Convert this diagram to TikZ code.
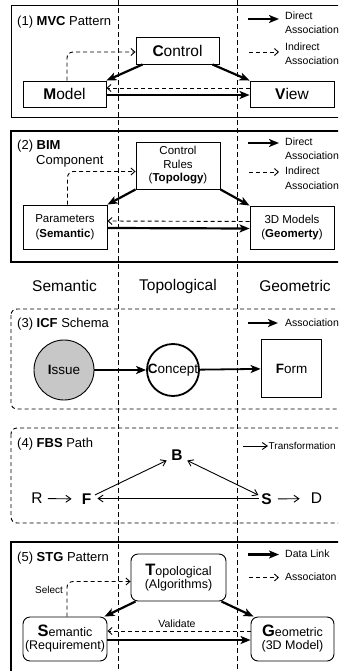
\documentclass[tikz,border=0pt]{standalone}
\usepackage{fontspec}
\setmainfont{Liberation Sans}
\usetikzlibrary{arrows.meta}
\newcommand{\myfs}[1]{\fontsize{#1}{#1}\selectfont}
\begin{document}
\begin{tikzpicture}[x=1pt,y=-1pt,
  frame/.style={draw, line width=0.9pt},
  bigframe/.style={draw, line width=2pt},
  dframe/.style={draw, line width=0.9pt, dash pattern=on 4pt off 3pt, rounded corners=6pt},
  box/.style={draw, line width=0.9pt, fill=white, inner sep=0pt},
  rbox/.style={draw, line width=0.9pt, fill=white, inner sep=0pt, rounded corners=7pt},
  thk/.style={line width=2.2pt, -{Stealth[length=10pt,width=8pt,inset=2.5pt]}},
  dsh/.style={line width=0.9pt, dash pattern=on 4pt off 3pt, -{Straight Barb[length=4pt,width=7pt]}},
  thn/.style={line width=0.9pt, -{Straight Barb[length=5pt,width=7pt]}},
  lg/.style={font=\myfs{10.5}, anchor=west, inner sep=0pt},
  ttl/.style={font=\myfs{13}, anchor=west, inner sep=0pt},
  col/.style={font=\myfs{15.5}, inner sep=0pt},
  guide/.style={line width=0.8pt, dash pattern=on 5pt off 3pt}
]
\path[use as bounding box] (0,0) rectangle (338,671);
\clip (0,0) rectangle (338,671);
\coordinate (g1t) at (118,0); \coordinate (g1b) at (118,671);
\coordinate (g2t) at (237,0); \coordinate (g2b) at (237,671);
\draw[guide] (g1t) -- (g1b);
\draw[guide] (g2t) -- (g2b);

% ---------- (1) MVC ----------
\draw[frame] (11,5) rectangle (350,117);
\node[ttl] (t1) at (17,22) {(1) \textbf{MVC} Pattern};
\node[box, minimum width=83pt, minimum height=27pt, font=\myfs{15.5}] (ctl) at (177.5,50.5) {\textbf{C}ontrol};
\node[box, minimum width=83pt, minimum height=26pt, font=\myfs{15.5}] (model) at (64.5,94) {\textbf{M}odel};
\node[box, minimum width=84pt, minimum height=26pt, font=\myfs{15.5}] (view) at (292,94) {\textbf{V}iew};
\draw[thk] ([xshift=7pt]ctl.south west) -- (model.north east);
\draw[thk] ([xshift=-7pt]ctl.south east) -- (view.north west);
\draw[thk] ([yshift=-1pt]model.east) -- ([yshift=-1pt]view.west);
\draw[dsh] ([yshift=6pt]view.west) -- ([yshift=6pt]model.east);
\draw[dsh, rounded corners=6pt] (model.north) ++(2.5,0) |- ([yshift=-1.5pt]ctl.west);
\coordinate (l1a) at (248,19); \coordinate (l1b) at (279,19);
\draw[thk] (l1a) -- (l1b);
\node[lg] (l1t1) at (285,16) {Direct};
\node[lg] (l1t2) at (285,29.5) {Association};
\coordinate (l1c) at (249,52); \coordinate (l1d) at (279,52);
\draw[dsh] (l1c) -- (l1d);
\node[lg] (l1t3) at (285,47) {Indirect};
\node[lg] (l1t4) at (285,60.5) {Association};

% ---------- (2) BIM ----------
\draw[bigframe] (11,131) rectangle (350,262);
\node[ttl] (t2a) at (17,146) {(2) \textbf{BIM}};
\node[ttl] (t2b) at (36,161) {Component};
\node[box, minimum width=84pt, minimum height=47pt, font=\myfs{11.5}, align=center] (cr) at (178,165.5) {Control\\[2pt]Rules\\[2pt](\textbf{Topology})};
\node[box, minimum width=84pt, minimum height=44pt, font=\myfs{11.5}, align=center] (par) at (65,227) {Parameters\\[3pt](\textbf{Semantic})};
\node[box, minimum width=84pt, minimum height=43pt, font=\myfs{11.5}, align=center] (geo) at (292,227.5) {3D Models\\[3pt](\textbf{Geomerty})};
\draw[thk] (cr.south west) -- (par.north east);
\draw[thk] (cr.south east) -- (geo.north west);
\draw[thk] ([yshift=-1pt]par.east) -- ([yshift=-1pt]geo.west);
\draw[dsh] ([yshift=6pt]geo.west) -- ([yshift=6pt]par.east);
\draw[dsh, rounded corners=6pt] (par.north) ++(2.5,0) |- ([yshift=-6pt]cr.west);
\coordinate (l2a) at (248,143); \coordinate (l2b) at (279,143);
\draw[thk] (l2a) -- (l2b);
\node[lg] (l2t1) at (285,142) {Direct};
\node[lg] (l2t2) at (285,156) {Association};
\coordinate (l2c) at (249,172); \coordinate (l2d) at (279,172);
\draw[dsh] (l2c) -- (l2d);
\node[lg] (l2t3) at (285,171) {Indirect};
\node[lg] (l2t4) at (285,185.5) {Association};

% ---------- column labels ----------
\node[col] (cs) at (64.5,286) {Semantic};
\node[col] (ct) at (178,286) {Topological};
\node[col] (cg) at (295,286) {Geometric};

% ---------- (3) ICF ----------
\draw[dframe] (11,309) rectangle (360,409);
\node[ttl] (t3) at (17,324) {(3) \textbf{ICF} Schema};
\node[draw, circle, line width=0.9pt, fill=black!22, minimum size=60pt, inner sep=0pt, font=\myfs{13.5}] (iss) at (64,370) {\textbf{I}ssue};
\node[draw, circle, line width=1.8pt, fill=white, minimum size=52pt, inner sep=0pt, font=\myfs{13.5}] (con) at (173,370) {\textbf{C}oncept};
\node[draw, line width=1.8pt, fill=white, minimum width=60pt, minimum height=58pt, inner sep=0pt, font=\myfs{13.5}] (frm) at (291.5,368.5) {\textbf{F}orm};
\draw[thk, line width=1.8pt] (iss) -- (con);
\draw[thk, line width=1.8pt] (con) -- (frm);
\coordinate (l3a) at (248,323); \coordinate (l3b) at (278,323);
\draw[thk] (l3a) -- (l3b);
\node[lg] (l3t) at (285,323) {Association};

% ---------- (4) FBS ----------
\draw[dframe] (11,428) rectangle (360,523);
\node[ttl] (t4) at (17,444) {(4) \textbf{FBS} Path};
\coordinate (l4a) at (243,446); \coordinate (l4b) at (268,446);
\draw[thn] (l4a) -- (l4b);
\node[lg, font=\myfs{10}] (l4t) at (268.5,446) {Transformation};
\node[col, font=\myfs{15.5}] (R) at (37,498.5) {R};
\node[col, font=\myfs{15.5}] (F) at (86.5,499) {\textbf{F}};
\node[col, font=\myfs{15.5}] (B) at (177,455.5) {\textbf{B}};
\node[col, font=\myfs{15.5}] (S) at (266.5,499) {\textbf{S}};
\node[col, font=\myfs{15.5}] (D) at (316.5,498.5) {D};
\draw[thn, shorten <=5pt, shorten >=10pt] (R) -- (F);
\draw[thn, shorten <=4pt, shorten >=5pt] (F) -- (B);
\draw[thn, {Straight Barb[length=5pt,width=7pt]}-{Straight Barb[length=5pt,width=7pt]}, shorten <=5pt, shorten >=3pt] (B) -- (S);
\draw[thn, shorten <=2pt, shorten >=6pt] ([yshift=0.5pt]S.west) -- ([yshift=0.5pt]F.east);
\draw[thn, shorten <=6pt, shorten >=11pt] (S) -- (D);

% ---------- (5) STG ----------
\draw[bigframe] (11,542) rectangle (350,690);
\node[ttl] (t5) at (17,558) {(5) \textbf{STG} Pattern};
\node[rbox, minimum width=95pt, minimum height=47pt, align=center] (top) at (178.5,577.5) {{\myfs{16.5}\textbf{T}}{\myfs{12.5}opological}\\[1pt]{\myfs{12.5}(Algorithms)}};
\node[rbox, minimum width=84pt, minimum height=44pt, align=center] (sem) at (65,639) {{\myfs{16.5}\textbf{S}}{\myfs{12.5}emantic}\\[1pt]{\myfs{12.5}(Requirement)}};
\node[rbox, minimum width=83pt, minimum height=44pt, align=center] (gem) at (292.5,639) {{\myfs{16.5}\textbf{G}}{\myfs{12.5}eometric}\\[1pt]{\myfs{12.5}(3D Model)}};
\draw[thk] ([xshift=5pt]top.south west) -- ([xshift=-3pt]sem.north east);
\draw[thk] ([xshift=-5pt]top.south east) -- ([xshift=3pt]gem.north west);
\draw[thk] ([yshift=-1pt]sem.east) -- ([yshift=-1pt]gem.west);
\draw[dsh] ([yshift=8pt]gem.west) -- ([yshift=8pt]sem.east);
\draw[dsh, rounded corners=6pt] (sem.north) ++(2,0) |- ([yshift=-4pt]top.west);
\node[font=\myfs{10}, inner sep=0pt] (sel) at (49,590) {Select};
\node[font=\myfs{10.5}, inner sep=0pt] (val) at (177,624) {Validate};
\coordinate (l5a) at (248,554.5); \coordinate (l5b) at (279,554.5);
\draw[thk] (l5a) -- (l5b);
\node[lg] (l5t1) at (285,554) {Data Link};
\coordinate (l5c) at (249,577.5); \coordinate (l5d) at (279,577.5);
\draw[dsh] (l5c) -- (l5d);
\node[lg] (l5t2) at (285,577) {Associaton};
\end{tikzpicture}
\end{document}
